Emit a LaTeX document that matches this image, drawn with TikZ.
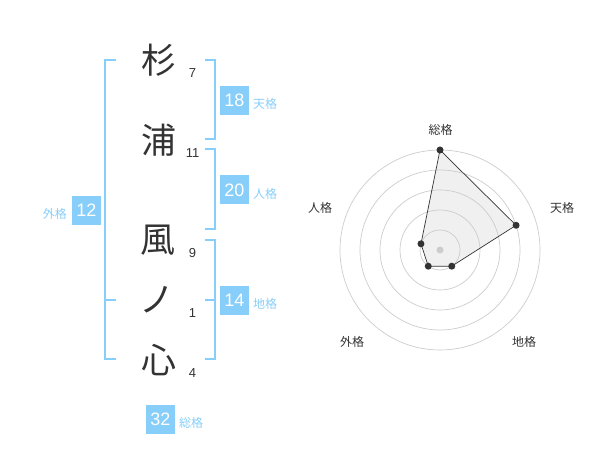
\documentclass[tikz,border=0pt]{standalone}
\usepackage{fontspec}
\setmainfont{Liberation Sans}
\newfontfamily\jp{Noto Sans CJK JP}
\usetikzlibrary{calc}
\definecolor{sky}{HTML}{87CEFA}
\definecolor{ink}{HTML}{333333}
\definecolor{ring}{HTML}{CCCCCC}
\definecolor{area}{HTML}{F0F0F0}
\tikzset{
  kanji/.style={font=\jp\fontsize{35}{35}\selectfont, text=ink, inner sep=0pt},
  stroke/.style={font=\fontsize{13}{13}\selectfont, text=ink, inner sep=0pt},
  valbox/.style={fill=sky, text=white, minimum width=29pt, minimum height=29pt, inner sep=0pt, font=\fontsize{18}{18}\selectfont},
  lbl/.style={font=\jp\fontsize{12}{12}\selectfont, text=sky, inner sep=0pt},
  bracket/.style={draw=sky, line width=2pt},
  axislbl/.style={font=\jp\fontsize{12}{12}\selectfont, text=ink, inner sep=0pt},
  ringc/.style={draw=ring, line width=0.7pt},
  dot/.style={circle, fill=ink, inner sep=0pt, minimum size=7pt},
}
\begin{document}
\begin{tikzpicture}[x=1pt,y=-1pt]
\useasboundingbox (0,0) rectangle (600,470);
% characters
\node[kanji] (c1) at (159,60) {杉};
\node[kanji] (c2) at (159,140) {浦};
\node[kanji] (c3) at (158,240) {風};
\node[kanji] (c4) at (157,300) {ノ};
\node[kanji] (c5) at (159,360) {心};
\node[stroke] (n1) at (192.5,73) {7};
\node[stroke] (n2) at (192.5,153) {11};
\node[stroke] (n3) at (192.5,253) {9};
\node[stroke] (n4) at (192.5,313) {1};
\node[stroke] (n5) at (192.5,373) {4};
% brackets
\draw[bracket] (116,60) -- (105,60) -- (105,359.5) -- (116,359.5);
\draw[bracket] (105,300) -- (116,300);
\draw[bracket] (205,60) -- (214.5,60) -- (214.5,139.5) -- (205,139.5);
\draw[bracket] (205,149.5) -- (214.5,149.5) -- (214.5,229.5) -- (205,229.5);
\draw[bracket] (205,240) -- (214.5,240) -- (214.5,359.5) -- (205,359.5);
\draw[bracket] (205,300) -- (214.5,300);
% value boxes
\node[valbox] (ten) at (234.5,100.5) {18};
\node[lbl, anchor=west] (tenl) at (253,104) {天格};
\node[valbox] (jin) at (234.5,190) {20};
\node[lbl, anchor=west] (jinl) at (253,194) {人格};
\node[valbox] (chi) at (234.5,300.5) {14};
\node[lbl, anchor=west] (chil) at (253,304) {地格};
\node[valbox] (gai) at (86.5,210.5) {12};
\node[lbl, anchor=east] (gail) at (67,214) {外格};
\node[valbox] (sou) at (160.5,419) {32};
\node[lbl, anchor=west] (soul) at (179,423) {総格};
% radar
\coordinate (C) at (440,250);
\coordinate (pS) at ($(C)+(-90:100)$);
\coordinate (pT) at ($(C)+(-18:80)$);
\coordinate (pC) at ($(C)+(54:20)$);
\coordinate (pG) at ($(C)+(126:20)$);
\coordinate (pJ) at ($(C)+(-162:20)$);
\fill[area] (pS) -- (pT) -- (pC) -- (pG) -- (pJ) -- cycle;
\foreach \r in {20,40,60,80,100} \draw[ringc] (C) circle[radius=\r];
\fill[ring] (C) circle[radius=3.5];
\draw[draw=ink, line width=0.7pt] (pS) -- (pT) -- (pC) -- (pG) -- (pJ) -- cycle;
\foreach \p in {pS,pT,pC,pG,pJ} \node[dot] at (\p) {};
\node[axislbl] (aS) at (440.5,130) {総格};
\node[axislbl] (aT) at (562,208) {天格};
\node[axislbl] (aJ) at (320,208) {人格};
\node[axislbl] (aG) at (352,342) {外格};
\node[axislbl] (aC) at (524,342) {地格};
\end{tikzpicture}
\end{document}
